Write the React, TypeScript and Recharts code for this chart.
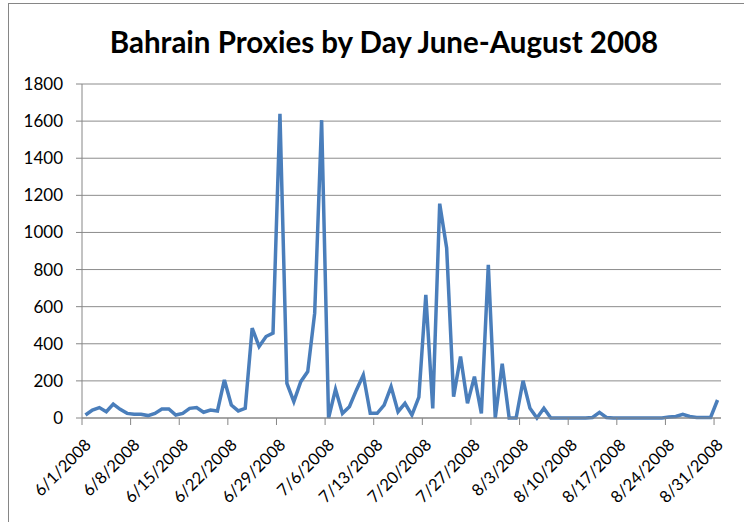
import { CartesianGrid, Line, LineChart, XAxis, YAxis } from 'recharts';

// daily proxy counts, 6/1/2008 .. 8/31/2008
const proxies = [
  16, 43, 56, 34, 75, 47, 25, 20, 20, 13,
  25, 49, 49, 16, 25, 52, 56, 31, 43, 38,
  205, 70, 38, 52, 484, 385, 439, 457, 1640, 187,
  88, 196, 250, 565, 1605, 0, 155, 25, 61, 150,
  232, 25, 25, 70, 169, 34, 79, 16, 112, 664,
  52, 1155, 916, 115, 331, 79, 223, 25, 826, 0,
  292, 0, 0, 201, 52, 0, 52, 0, 0, 0,
  0, 0, 0, 3, 30, 3, 0, 0, 0, 0,
  0, 0, 0, 0, 5, 8, 20, 8, 3, 3,
  3, 97,
];

const weekLabels = [
  '6/1/2008', '6/8/2008', '6/15/2008', '6/22/2008', '6/29/2008', '7/6/2008', '7/13/2008',
  '7/20/2008', '7/27/2008', '8/3/2008', '8/10/2008', '8/17/2008', '8/24/2008', '8/31/2008',
];

const yTicks = [0, 200, 400, 600, 800, 1000, 1200, 1400, 1600, 1800];

const rows = proxies.map((count, day) => ({ day, count }));
// Excel-style date axis: tick marks sit on the category boundaries
const xTicks = weekLabels.map((_, i) => i * 7 - 0.5);

const FONT = 'Lato, "Liberation Sans", sans-serif';

const DateTick = ({ x, y, index }: any) => {
  const tx = x + 6;
  const ty = y + 15;
  return (
    <text
      x={tx}
      y={ty}
      transform={`rotate(-45 ${tx} ${ty})`}
      textAnchor="end"
      dy="0.35em"
      fill="#000"
      fontSize={16.5}
      fontFamily={FONT}
    >
      {weekLabels[index]}
    </text>
  );
};

export default function App() {
  return (
    <div style={{ position: 'absolute', left: 0, top: 0, width: 744, height: 522, overflow: 'hidden', background: '#fff' }}>
      <div
        style={{
          position: 'absolute',
          left: 8,
          top: 3,
          width: 800,
          height: 600,
          borderLeft: '1.5px solid #868686',
          borderTop: '1.5px solid #868686',
        }}
      />
      <div
        style={{
          position: 'absolute',
          left: 0,
          top: 23,
          width: 768,
          textAlign: 'center',
          fontFamily: FONT,
          fontWeight: 700,
          fontSize: 29.5,
          lineHeight: '38px',
          color: '#000',
        }}
      >
        Bahrain Proxies by Day June-August 2008
      </div>
      <div style={{ position: 'absolute', left: 0, top: 0 }}>
        <LineChart width={744} height={522} data={rows} margin={{ top: 84, right: 23, bottom: 0, left: 0 }}>
          <CartesianGrid vertical={false} stroke="#8c8c8c" strokeWidth={1} />
          <XAxis
            dataKey="day"
            type="number"
            domain={[-0.5, 91.5]}
            ticks={xTicks}
            interval={0}
            height={104}
            tick={<DateTick />}
            tickSize={7}
            stroke="#868686"
            axisLine={{ stroke: '#868686' }}
            tickLine={{ stroke: '#868686' }}
          />
          <YAxis
            domain={[0, 1800]}
            ticks={yTicks}
            interval={0}
            width={82}
            tickSize={6}
            tickMargin={13}
            stroke="#868686"
            tick={{ fill: '#000', fontSize: 17, fontFamily: FONT }}
          />
          <Line
            type="linear"
            dataKey="count"
            stroke="#4a7ebb"
            strokeWidth={3.5}
            dot={false}
            isAnimationActive={false}
          />
        </LineChart>
      </div>
    </div>
  );
}
